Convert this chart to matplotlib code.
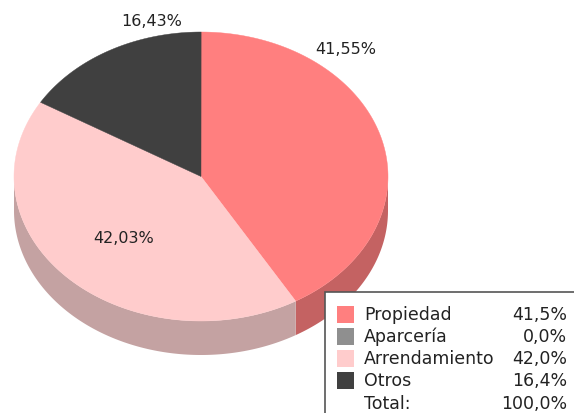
import numpy as np
import matplotlib.pyplot as plt
from matplotlib.patches import Polygon, Rectangle

categories = ["Propiedad", "Aparcería", "Arrendamiento", "Otros"]
shares = [41.55, 0.0, 42.03, 16.43]
top_colors = ["#FF7F7F", "#8F8F8F", "#FFCCCC", "#404040"]
side_colors = ["#C46262", "#6E6E6E", "#C4A2A2", "#303030"]

# pixel layout of the tilted disc
cx, cy, rx, ry, depth = 201, 177.5, 187, 144.5, 34
label_pos = {"Propiedad": (346, 50), "Arrendamiento": (124, 239), "Otros": (152, 22)}

plt.rcParams["font.family"] = ["DejaVu Sans"]

fig = plt.figure(figsize=(5.74, 4.14), dpi=100)
ax = fig.add_axes([0, 0, 1, 1])
ax.set_xlim(0, 574)
ax.set_ylim(414, 0)
ax.axis("off")


def rim(t0, t1, dy=0.0, n=200):
    t = np.radians(np.linspace(t0, t1, n))
    return np.column_stack([cx + rx * np.cos(t), cy - ry * np.sin(t) + dy])


# slice angles, clockwise from 12 o'clock
bounds = []
start = 90.0
for s in shares:
    end = start - s * 3.6
    bounds.append((end, start))
    start = end

# visible side walls (front half: -180..0 degrees)
for (a0, a1), col, s in zip(bounds, side_colors, shares):
    if s == 0:
        continue
    for off in (0, -360):
        lo, hi = max(a0 - off, -180), min(a1 - off, 0)
        if lo < hi:
            upper = rim(lo, hi)
            lower = rim(hi, lo, depth)
            ax.add_patch(Polygon(np.vstack([upper, lower]), closed=True,
                                 fc=col, ec="none"))

# top surface
for (a0, a1), col, s in zip(bounds, top_colors, shares):
    if s == 0:
        continue
    pts = np.vstack([[cx, cy], rim(a0, a1)])
    ax.add_patch(Polygon(pts, closed=True, fc=col, ec=col, lw=0.3))

for name, s in zip(categories, shares):
    if name in label_pos:
        x, y = label_pos[name]
        ax.text(x, y, f"{s:.2f}%".replace(".", ","), ha="center", va="center",
                fontsize=11.5, color="#222222")

# legend table
ax.add_patch(Rectangle((325, 293), 260, 140, fc="white", ec="#555555", lw=1.2))
row_y = [315, 337, 359, 381]
for name, s, col, y in zip(categories, shares, top_colors, row_y):
    ax.add_patch(Rectangle((337, y - 8.5), 17, 17, fc=col, ec="none"))
    ax.text(364, y, name, ha="left", va="center", fontsize=12.5, color="#222222")
    ax.text(567, y, f"{s:.1f}%".replace(".", ","), ha="right", va="center",
            fontsize=12.5, color="#222222")
ax.text(364, 404, "Total:", ha="left", va="center", fontsize=12.5, color="#222222")
ax.text(567, 404, f"{sum(shares):.1f}%".replace(".", ","), ha="right",
        va="center", fontsize=12.5, color="#222222")

fig.savefig("out.png", dpi=100)
